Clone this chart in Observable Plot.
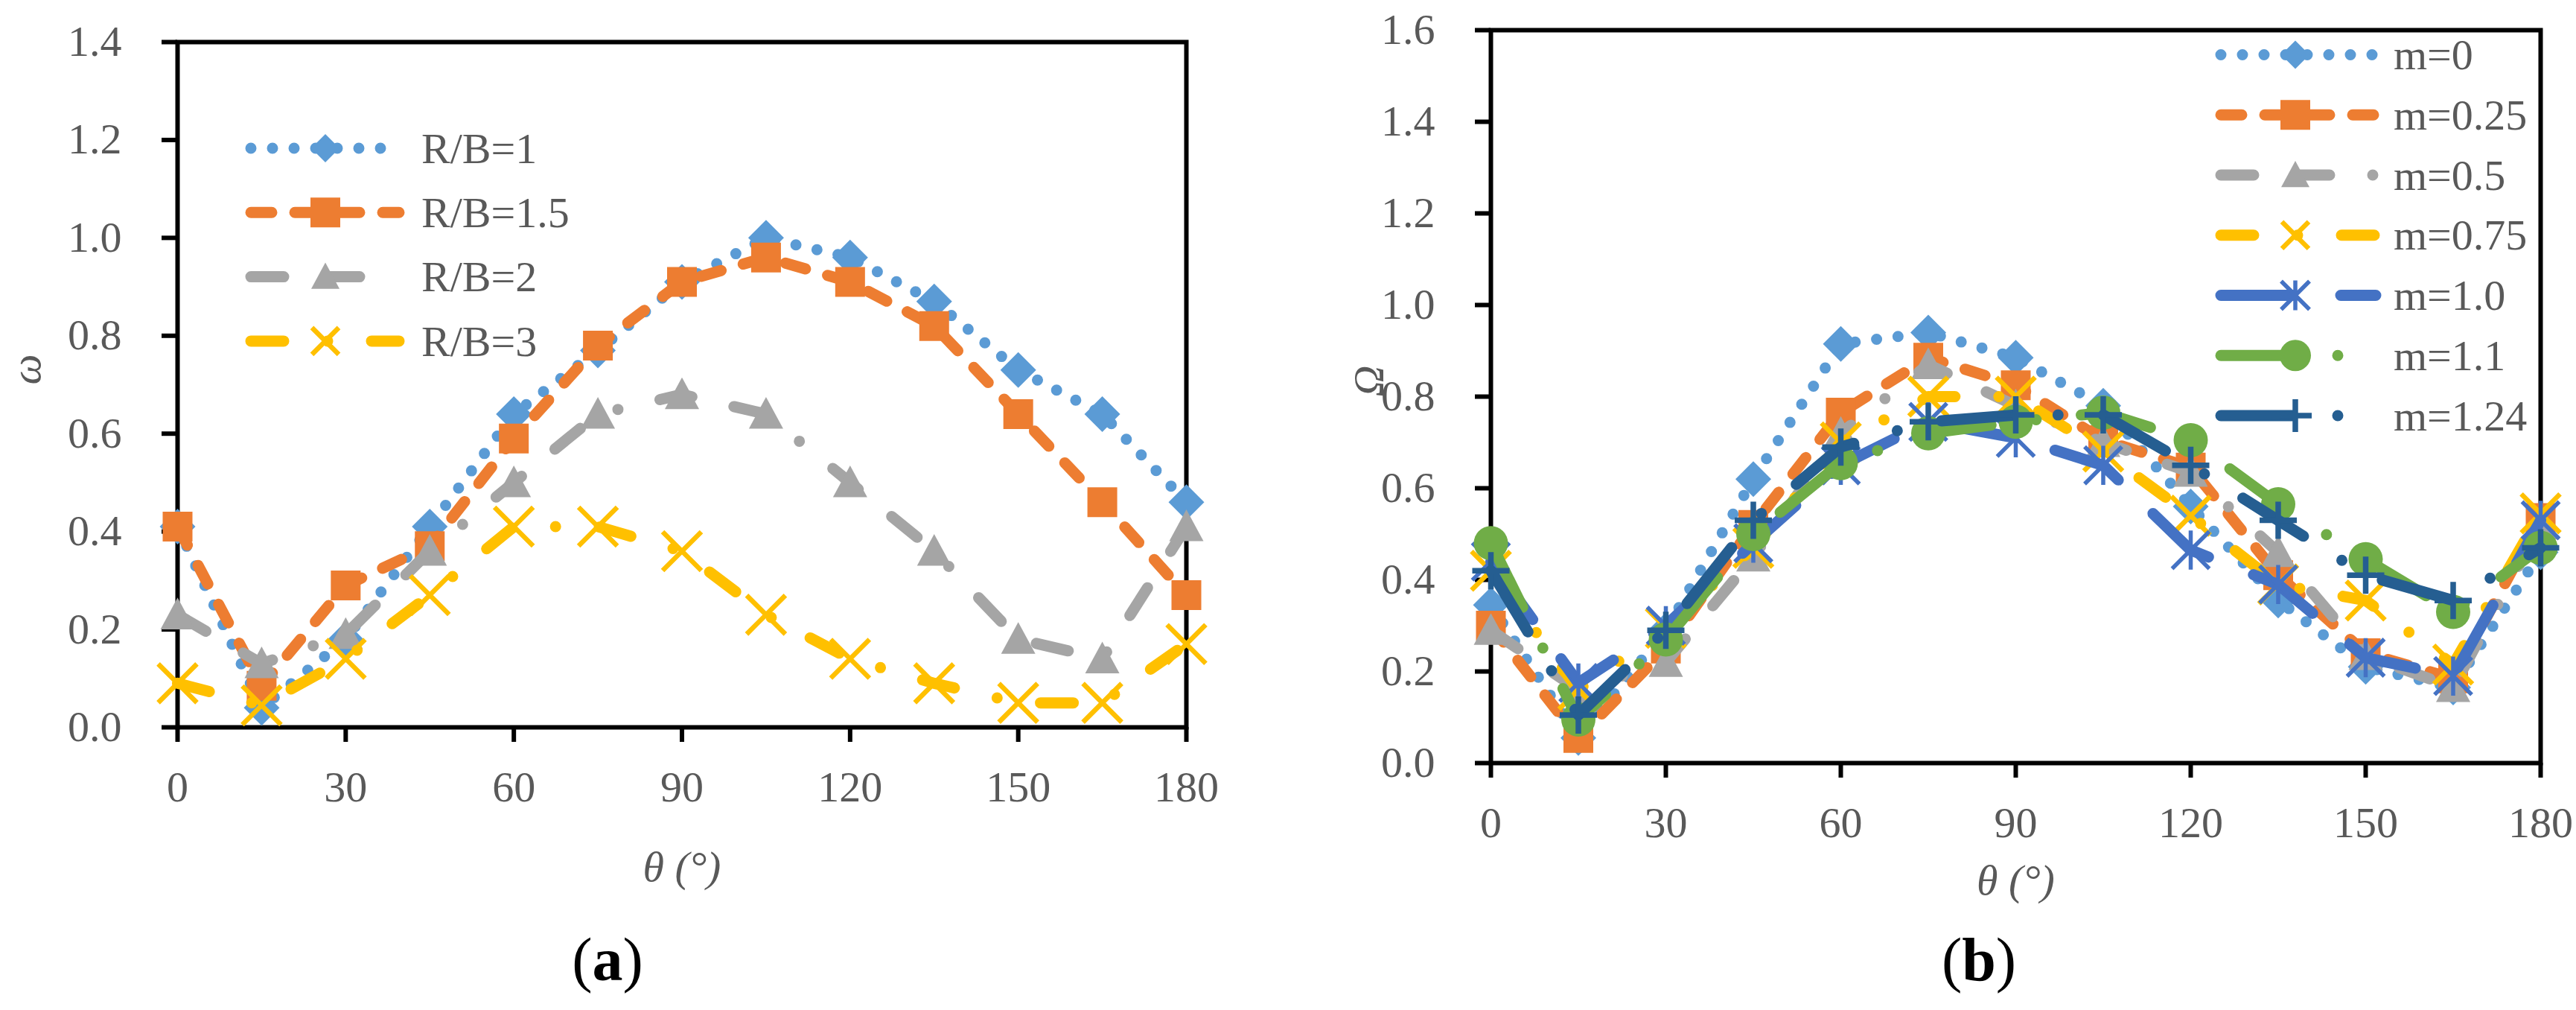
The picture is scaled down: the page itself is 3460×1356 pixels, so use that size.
<!DOCTYPE html>
<html>
<head>
<meta charset="utf-8">
<script src="https://cdn.jsdelivr.net/npm/d3@7"></script>
<script src="https://cdn.jsdelivr.net/npm/@observablehq/plot@0.6"></script>
<style>
html, body { margin: 0; padding: 0; background: #fff; }
#fig { position: relative; width: 3460px; height: 1356px; overflow: hidden; font-family: "Liberation Serif", serif; }
#fig > svg, #fig > div { position: absolute; }
.cap { font-size: 82px; line-height: 1; color: #000; text-align: center; font-family: "Liberation Serif", serif; }
.cap b { font-weight: bold; }
</style>
</head>
<body>
<div id="fig"></div>
<script>
// ---------- data ----------
const theta = [0, 15, 30, 45, 60, 75, 90, 105, 120, 135, 150, 165, 180];
const xTicks = [0, 30, 60, 90, 120, 150, 180];
const yTicksA = [0, 0.2, 0.4, 0.6, 0.8, 1.0, 1.2, 1.4];
const yTicksB = [0, 0.2, 0.4, 0.6, 0.8, 1.0, 1.2, 1.4, 1.6];

// panel (a): omega vs theta
const namesA = ["R/B=1", "R/B=1.5", "R/B=2", "R/B=3"];
const rb1  = [0.41, 0.04, 0.18, 0.41, 0.64, 0.77, 0.91, 1.00, 0.96, 0.87, 0.73, 0.64, 0.46];
const rb15 = [0.41, 0.085, 0.29, 0.37, 0.59, 0.78, 0.91, 0.96, 0.91, 0.82, 0.64, 0.46, 0.27];
const rb2  = [0.23, 0.13, 0.19, 0.36, 0.50, 0.64, 0.68, 0.64, 0.50, 0.36, 0.18, 0.14, 0.41];
const rb3  = [0.09, 0.045, 0.14, 0.27, 0.41, 0.41, 0.36, 0.23, 0.14, 0.09, 0.05, 0.05, 0.17];

// panel (b): Omega vs theta
const namesB = ["m=0", "m=0.25", "m=0.5", "m=0.75", "m=1.0", "m=1.1", "m=1.24"];
const m0   = [0.345, 0.055, 0.29, 0.62, 0.915, 0.94, 0.885, 0.78, 0.56, 0.355, 0.21, 0.165, 0.46];
const m025 = [0.30, 0.055, 0.25, 0.52, 0.765, 0.885, 0.825, 0.705, 0.645, 0.41, 0.24, 0.185, 0.535];
const m05  = [0.29, 0.16, 0.22, 0.45, 0.72, 0.87, 0.78, 0.70, 0.635, 0.46, 0.235, 0.165, 0.52];
const m075 = [0.42, 0.16, 0.295, 0.47, 0.70, 0.80, 0.80, 0.68, 0.54, 0.39, 0.355, 0.215, 0.545];
const m10  = [0.44, 0.175, 0.30, 0.48, 0.65, 0.745, 0.71, 0.65, 0.465, 0.39, 0.23, 0.19, 0.53];
const m11  = [0.48, 0.095, 0.27, 0.50, 0.655, 0.72, 0.745, 0.765, 0.705, 0.565, 0.445, 0.33, 0.47];
const m124 = [0.42, 0.105, 0.29, 0.53, 0.69, 0.745, 0.76, 0.76, 0.65, 0.53, 0.41, 0.355, 0.47];

// ---------- styles ----------
const LW = 15;
const TEXT = "#595959";
const SYM = {
  diamond: {draw(c, s) { const r = Math.sqrt(s / Math.PI); c.moveTo(0, -r); c.lineTo(r, 0); c.lineTo(0, r); c.lineTo(-r, 0); c.closePath(); }},
  square: {draw(c, s) { const r = Math.sqrt(s / Math.PI); c.rect(-r, -r, 2 * r, 2 * r); }},
  triangle: {draw(c, s) { const r = Math.sqrt(s / Math.PI); c.moveTo(0, -r); c.lineTo(r, 0.85 * r); c.lineTo(-r, 0.85 * r); c.closePath(); }},
  circle: {draw(c, s) { const r = Math.sqrt(s / Math.PI); c.moveTo(r, 0); c.arc(0, 0, r, 0, 2 * Math.PI); }},
  times: {draw(c, s) { const r = Math.sqrt(s / Math.PI); c.moveTo(-r, -r); c.lineTo(r, r); c.moveTo(-r, r); c.lineTo(r, -r); }},
  asterisk: {draw(c, s) { const r = Math.sqrt(s / Math.PI); c.moveTo(-r, -r); c.lineTo(r, r); c.moveTo(-r, r); c.lineTo(r, -r); c.moveTo(0, -1.05 * r); c.lineTo(0, 1.05 * r); }},
  plus: {draw(c, s) { const r = Math.sqrt(s / Math.PI); c.moveTo(-r, 0); c.lineTo(r, 0); c.moveTo(0, -r); c.lineTo(0, r); }}
};
const MK = {
  diamond:  {r: 24, lr: 19, filled: true},
  square:   {r: 20, lr: 20, filled: true},
  triangle: {r: 23, lr: 19, filled: true},
  circle:   {r: 23, lr: 21, filled: true},
  times:    {r: 26, lr: 18, filled: false, sw: 6.5},
  asterisk: {r: 25, lr: 19, filled: false, sw: 5.5},
  plus:     {r: 25, lr: 22, filled: false, sw: 7.5}
};
const DASH = {
  dot: "0,29",
  dash: "28,31",
  dashDashDot: "44,58,44,58,0,58",
  dashDot: "44,59,0,59",
  longDash: "96,65",
  longDashDot: "96,61,0,61"
};

const seriesA = [
  {name: namesA[0], values: rb1,  color: "#5B9BD5", dash: DASH.dot,         marker: "diamond"},
  {name: namesA[1], values: rb15, color: "#ED7D31", dash: DASH.dash,        marker: "square"},
  {name: namesA[2], values: rb2,  color: "#A5A5A5", dash: DASH.dashDashDot, marker: "triangle"},
  {name: namesA[3], values: rb3,  color: "#FFC000", dash: DASH.dashDot,     marker: "times"}
];
const seriesB = [
  {name: namesB[0], values: m0,   color: "#5B9BD5", dash: DASH.dot,         marker: "diamond"},
  {name: namesB[1], values: m025, color: "#ED7D31", dash: DASH.dash,        marker: "square"},
  {name: namesB[2], values: m05,  color: "#A5A5A5", dash: DASH.dashDashDot, marker: "triangle"},
  {name: namesB[3], values: m075, color: "#FFC000", dash: DASH.dashDot,     marker: "times"},
  {name: namesB[4], values: m10,  color: "#4472C4", dash: DASH.longDash,    marker: "asterisk"},
  {name: namesB[5], values: m11,  color: "#70AD47", dash: DASH.longDashDot, marker: "circle"},
  {name: namesB[6], values: m124, color: "#255E91", dash: DASH.longDashDot, marker: "plus"}
];

function panel(cfg) {
  const marks = [
    Plot.frame({stroke: "black", strokeWidth: 6}),
    Plot.axisX({ticks: xTicks, tickSize: 20, tickPadding: 38, stroke: "black", strokeWidth: 6, fill: TEXT, tickFormat: d => String(d), label: null}),
    Plot.axisY({ticks: cfg.yTicks, tickSize: 21, tickPadding: 54, stroke: "black", strokeWidth: 6, fill: TEXT, tickFormat: d3.format(".1f"), label: null}),
    Plot.text([cfg.xTitle], {frameAnchor: "bottom", dy: cfg.xTitleDy, lineAnchor: "bottom", text: d => d, fontStyle: "italic", fill: TEXT}),
    Plot.text([cfg.yTitle], {frameAnchor: "left", dx: cfg.yTitleDx, rotate: -90, lineAnchor: "middle", text: d => d, fontStyle: "italic", fill: TEXT})
  ];
  cfg.series.forEach(s => {
    const rows = theta.map((t, i) => ({theta: t, v: s.values[i], series: s.name}));
    const mk = MK[s.marker];
    marks.push(Plot.line(rows, {x: "theta", y: "v", stroke: s.color, strokeWidth: LW, strokeDasharray: s.dash, strokeLinecap: "round", strokeLinejoin: "round"}));
    marks.push(Plot.dot(rows, {
      x: "theta", y: "v", symbol: SYM[s.marker], r: mk.r,
      fill: mk.filled ? s.color : "none",
      stroke: mk.filled ? "none" : s.color,
      strokeWidth: mk.sw || 0
    }));
  });
  return Plot.plot({
    width: cfg.width, height: cfg.height,
    marginLeft: cfg.ml, marginRight: cfg.mr, marginTop: cfg.mt, marginBottom: cfg.mb,
    x: {domain: [0, 180]},
    y: {domain: cfg.yDomain},
    style: {fontFamily: "'Liberation Serif', serif", fontSize: "58px", color: TEXT, background: "transparent", overflow: "visible"},
    marks
  });
}

const fig = document.getElementById("fig");

const plotA = panel({
  series: seriesA, yTicks: yTicksA, yDomain: [0, 1.4],
  width: 1720, height: 1356, ml: 238, mr: 127, mt: 56, mb: 380,
  xTitle: "θ (°)", xTitleDy: 206, yTitle: "ω", yTitleDx: -203
});
plotA.style.left = "0px"; plotA.style.top = "0px";
fig.appendChild(plotA);

const plotB = panel({
  series: seriesB, yTicks: yTicksB, yDomain: [0, 1.6],
  width: 1730, height: 1356, ml: 272, mr: 48, mt: 40, mb: 332,
  xTitle: "θ (°)", xTitleDy: 176, yTitle: "Ω", yTitleDx: -163
});
plotB.style.left = "1730px"; plotB.style.top = "0px";
fig.appendChild(plotB);

// ---------- legends (overlay) ----------
const ov = d3.select(fig).append("svg")
  .attr("width", 3460).attr("height", 1356)
  .style("left", "0px").style("top", "0px").style("pointer-events", "none");

function legend(series, L) {
  const g = ov.append("g").attr("font-family", "'Liberation Serif', serif").attr("font-size", 58).attr("fill", TEXT);
  series.forEach((s, i) => {
    const y = L.y0 + i * L.dy;
    const mk = MK[s.marker];
    g.append("line").attr("x1", L.x1).attr("x2", L.x2).attr("y1", y).attr("y2", y)
      .attr("stroke", s.color).attr("stroke-width", LW).attr("stroke-dasharray", s.dash)
      .attr("stroke-linecap", "round");
    g.append("path").attr("transform", `translate(${L.mx},${y})`)
      .attr("d", d3.symbol(SYM[s.marker], Math.PI * mk.lr * mk.lr)())
      .attr("fill", mk.filled ? s.color : "none")
      .attr("stroke", mk.filled ? "none" : s.color)
      .attr("stroke-width", mk.sw || 0);
    g.append("text").attr("x", L.tx).attr("y", y).attr("dy", "0.34em").text(s.name);
  });
}
legend(seriesA, {x1: 337, x2: 536, mx: 437, tx: 566, y0: 199, dy: 86.3});
legend(seriesB, {x1: 2983, x2: 3191, mx: 3083, tx: 3215, y0: 73.5, dy: 80.75});

// ---------- panel captions ----------
const capA = document.createElement("div");
capA.className = "cap"; capA.style.left = "0px"; capA.style.width = "1632px"; capA.style.top = "1248px";
capA.innerHTML = "(<b>a</b>)";
fig.appendChild(capA);
const capB = document.createElement("div");
capB.className = "cap"; capB.style.left = "1858px"; capB.style.width = "1600px"; capB.style.top = "1248px";
capB.innerHTML = "(<b>b</b>)";
fig.appendChild(capB);
</script>
</body>
</html>
